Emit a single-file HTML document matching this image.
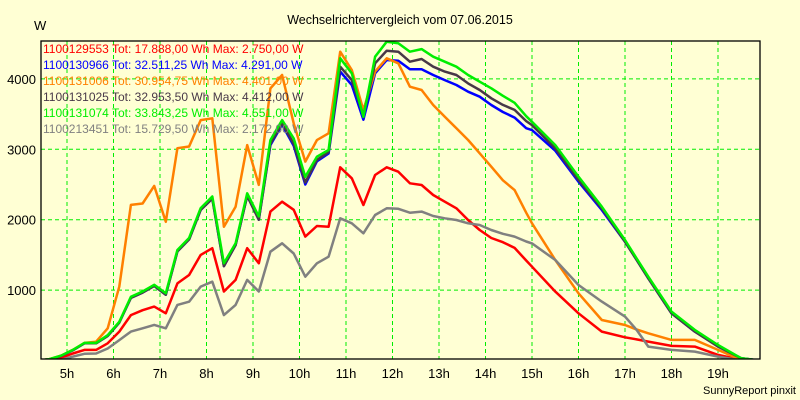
<!DOCTYPE html>
<html><head><meta charset="utf-8"><style>
html,body{margin:0;padding:0;background:#ffffd4;}
svg{display:block;font-family:"Liberation Sans",Arial,sans-serif;}
</style></head><body>
<svg id="chart" width="800" height="400" viewBox="0 0 800 400">
<rect x="0" y="0" width="800" height="400" fill="#ffffd4"/>
<text x="400" y="24" text-anchor="middle" font-size="12.5" fill="#000">Wechselrichtervergleich vom 07.06.2015</text>
<text x="34" y="30" font-size="13" fill="#000">W</text>
<text x="796" y="394" text-anchor="end" font-size="11" fill="#000">SunnyReport pinxit</text>
<g id="grid"></g>
<g id="ticks"></g>
<defs><clipPath id="plotclip"><rect x="41" y="38" width="719" height="321"/></clipPath></defs>
<g id="series" clip-path="url(#plotclip)"></g>
<rect x="41" y="41" width="719" height="318" fill="none" stroke="#000" stroke-width="1.3"/>
<g id="legend"></g>
</svg>
<script>
const times = [4.375,4.625,4.875,5.125,5.375,
5.625,5.875,6.125,6.375,6.625,6.875,7.125,7.375,7.625,7.875,8.125,8.375,8.625,8.875,9.125,9.375,9.625,9.875,10.125,10.375,
10.625,10.875,11.125,11.375,11.625,11.875,12.125,12.375,12.625,12.875,13.125,13.375,13.625,13.875,14.125,14.375,14.625,14.875,
15,15.5,16,16.5,17,17.25,17.5,18,18.5,19,19.5,19.9];
const red = [0,10,40,100,150,
150,245,410,645,715,765,670,1095,1215,1500,1595,980,1145,1595,1380,2115,2255,2140,1760,1910,
1900,2744,2588,2209,2635,2744,2682,2517,2493,2351,2256,2162,1996,1854,1740,1680,1600,1420,
1333,979,670,410,330,300,268,207,197,79,8,0];
const blue = [0,18,65,145,245,
245,350,540,890,965,1060,935,1550,1720,2140,2300,1340,1640,2340,2000,3060,3350,3050,2500,2830,
2940,4103,3913,3420,4079,4268,4259,4136,4136,4055,3983,3913,3818,3747,3629,3530,3450,3300,
3273,2980,2540,2138,1688,1430,1167,670,410,205,31,0];
const orange = [0,20,70,150,250,
267,457,1050,2210,2230,2480,1970,3015,3040,3415,3440,1900,2185,3060,2495,3865,4055,3370,2825,3130,
3227,4387,4126,3558,4103,4292,4221,3889,3842,3629,3463,3298,3132,2943,2753,2560,2420,2100,
1949,1428,954,575,504,440,386,292,292,150,8,0];
const black = [0,18,65,145,245,
245,350,540,890,965,1060,935,1550,1720,2140,2300,1340,1640,2340,2000,3080,3370,3080,2530,2850,
2960,4174,3983,3480,4221,4401,4387,4245,4283,4174,4103,4055,3936,3842,3724,3630,3560,3400,
3344,3013,2564,2162,1688,1430,1167,670,410,197,31,0];
const green = [0,20,70,150,250,
250,360,550,905,980,1075,955,1570,1740,2165,2330,1380,1665,2375,2045,3130,3415,3155,2610,2895,
2990,4292,4079,3460,4316,4529,4505,4387,4424,4316,4245,4174,4055,3960,3866,3760,3660,3470,
3391,3060,2611,2185,1712,1450,1191,694,434,220,31,0];
const gray = [0,0,10,55,95,
100,170,290,410,457,505,457,790,835,1050,1120,645,790,1145,980,1545,1665,1520,1190,1380,
1474,2020,1949,1807,2067,2162,2155,2100,2115,2053,2020,1996,1949,1925,1854,1800,1760,1690,
1664,1428,1073,836,623,434,197,150,126,55,0,0];
const seriesNames = ["red","blue","orange","black","green","gray"];
const legendLabels = [
"1100129553 Tot: 17.888,00 Wh Max: 2.750,00 W",
"1100130966 Tot: 32.511,25 Wh Max: 4.291,00 W",
"1100131006 Tot: 30.954,75 Wh Max: 4.401,00 W",
"1100131025 Tot: 32.953,50 Wh Max: 4.412,00 W",
"1100131074 Tot: 33.843,25 Wh Max: 4.551,00 W",
"1100213451 Tot: 15.729,50 Wh Max: 2.172,00 W"];
const xTicks = [5,6,7,8,9,10,11,12,13,14,15,16,17,18,19];
const yTicks = [1000,2000,3000,4000];

const colors = {red:"#ff0000",blue:"#0000ff",orange:"#ff8000",black:"#483848",green:"#00ee00",gray:"#808080"};
const dataMap = {red,blue,orange,black,green,gray};
function xs(h){return 67+(h-5)*46.5;}
function ys(v){return 360.5-v*0.0704;}
const NS="http://www.w3.org/2000/svg";
const grid=document.getElementById('grid'), ticks=document.getElementById('ticks');
xTicks.forEach(h=>{
  const l=document.createElementNS(NS,'line');
  
  
  l.setAttribute('x1',xs(h));l.setAttribute('x2',xs(h));l.setAttribute('y1',41);l.setAttribute('y2',359);
  l.setAttribute('stroke','#00ee00');l.setAttribute('stroke-dasharray','4,3');l.setAttribute('stroke-width','1');
  grid.appendChild(l);
  const t=document.createElementNS(NS,'text');
  
  
  t.setAttribute('x',xs(h));t.setAttribute('y',378);t.setAttribute('text-anchor','middle');t.setAttribute('font-size','13');
  t.textContent=h+'h';ticks.appendChild(t);
});
yTicks.forEach(v=>{
  const l=document.createElementNS(NS,'line');
  
  
  l.setAttribute('x1',41);l.setAttribute('x2',760);l.setAttribute('y1',ys(v));l.setAttribute('y2',ys(v));
  l.setAttribute('stroke','#00ee00');l.setAttribute('stroke-dasharray','4,3');l.setAttribute('stroke-width','1');
  grid.appendChild(l);
  const t=document.createElementNS(NS,'text');
  
  
  t.setAttribute('x',36);t.setAttribute('y',ys(v)+5);t.setAttribute('text-anchor','end');t.setAttribute('font-size','13');
  t.textContent=String(v);ticks.appendChild(t);
});
const sg=document.getElementById('series');
seriesNames.forEach(n=>{
  const vals=dataMap[n];
  const p=document.createElementNS(NS,'polyline');
  
  
  p.setAttribute('points',times.map((t,i)=>xs(t).toFixed(1)+','+ys(vals[i]).toFixed(1)).join(' '));
  p.setAttribute('fill','none');p.setAttribute('stroke',colors[n]);p.setAttribute('stroke-width','2.5');
  p.setAttribute('stroke-linejoin','round');
  sg.appendChild(p);
});
const lg=document.getElementById('legend');
legendLabels.forEach((s,i)=>{
  const t=document.createElementNS(NS,'text');
  
  
  t.setAttribute('x',43);t.setAttribute('y',53+i*16);t.setAttribute('font-size','12');
  t.setAttribute('fill',colors[seriesNames[i]]);
  t.textContent=s;lg.appendChild(t);
});
</script>
</body></html>
